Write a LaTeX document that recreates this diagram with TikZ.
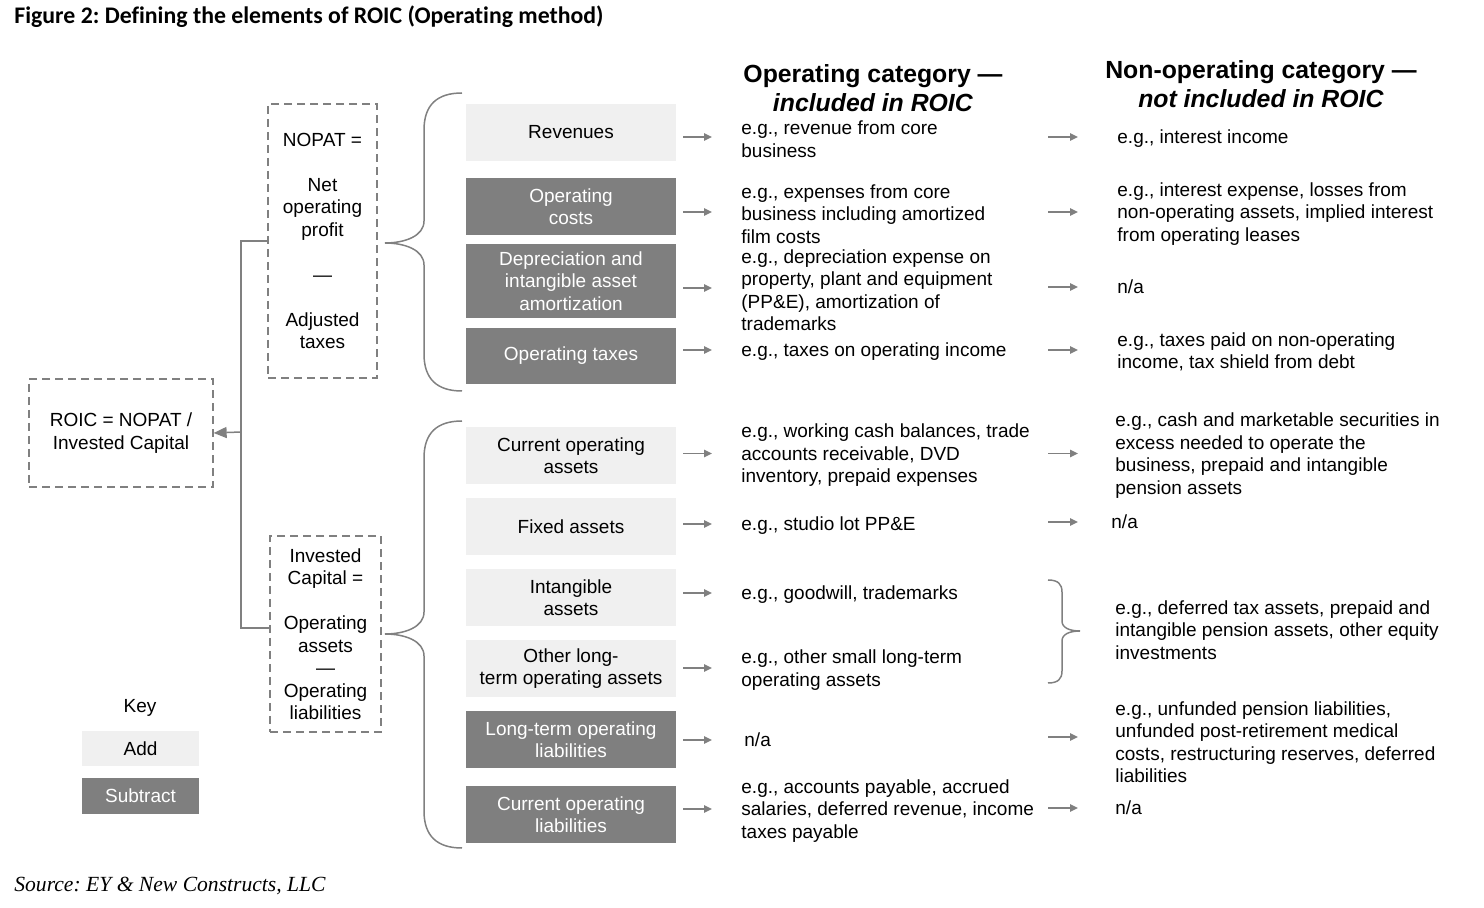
\documentclass[tikz,border=0pt]{standalone}
\usepackage{fontspec}
\setmainfont{Liberation Sans}
\newfontfamily\titlefont[Ligatures=NoCommon]{Carlito}
\newfontfamily\srcfont{Liberation Serif}
\usetikzlibrary{arrows.meta}
\definecolor{lightbox}{HTML}{F0F0F0}
\definecolor{darkbox}{HTML}{7F7F7F}
\definecolor{linegray}{HTML}{808080}
\newcommand\bodysize{\fontsize{9.5}{11.25}\selectfont}
\frenchspacing
\begin{document}
\begin{tikzpicture}[x=0.5pt,y=-0.5pt,
 addbox/.style={fill=lightbox, minimum width=105pt, inner sep=0, align=center, font=\bodysize, text=black},
 subbox/.style={fill=darkbox, minimum width=105pt, inner sep=0, align=center, font=\bodysize, text=white},
 dbox/.style={draw=linegray, dash pattern=on 4pt off 2.5pt, line width=0.65pt, inner sep=0, align=center, font=\bodysize},
 txt/.style={anchor=west, align=left, inner sep=0, font=\bodysize, yshift=-1pt},
 hdr/.style={align=center, inner sep=0, font=\fontsize{12.4}{14.5}\selectfont\bfseries},
 arr/.style={draw=linegray, line width=0.9pt, -{Triangle[length=4pt,width=3.6pt]}},
 conn/.style={draw=linegray, line width=0.75pt},
 brc/.style={draw=linegray, line width=0.75pt}]
\useasboundingbox (0,0) rectangle (1484,908);

% title and source
\node[anchor=west, inner sep=0, font=\titlefont\bfseries\fontsize{11.9}{14}\selectfont] (title) at (14,17) {Figure 2: Defining the elements of ROIC (Operating method)};
\node[anchor=west, inner sep=0, font=\srcfont\itshape\fontsize{10.8}{13}\selectfont] (src) at (14,886) {Source: EY \& New Constructs, LLC};

% headers
\node[hdr] (h1) at (873,88) {Operating category —\\\textit{included in ROIC}};
\node[hdr] (h2) at (1261,84) {Non-operating category —\\\textit{not included in ROIC}};

% dashed boxes
\node[dbox, minimum width=92pt, minimum height=54pt] (roic) at (121,433) {ROIC = NOPAT /\\Invested Capital};
\node[dbox, minimum width=54.5pt, minimum height=137pt] (nopat) at (322.5,241) {NOPAT =\\\mbox{}\\Net\\operating\\profit\\\mbox{}\\—\\\mbox{}\\Adjusted\\taxes};
\node[dbox, minimum width=55.5pt, minimum height=98pt] (inv) at (325.5,634) {Invested\\Capital =\\\mbox{}\\Operating\\assets\\—\\Operating\\liabilities};

% connector
\coordinate (jx) at (241,432);
\draw[conn] (nopat.west) -| (jx) |- ([yshift=3pt]inv.west);
\draw[conn, -{Triangle[length=6.5pt,width=5.5pt]}] (jx) -- (roic.east);

% braces
\draw[brc] (462,93) .. controls (437,93) and (424,105) .. (424,130) -- (424,221)
  .. controls (424,236) and (405,243) .. (385,243)
  .. controls (405,243) and (424,250) .. (424,265) -- (424,354)
  .. controls (424,379) and (437,391) .. (462,391);
\draw[brc] (462,421) .. controls (437,421) and (424,433) .. (424,458) -- (424,612)
  .. controls (424,627) and (405,634) .. (385,634)
  .. controls (405,634) and (424,641) .. (424,656) -- (424,811)
  .. controls (424,836) and (437,848) .. (462,848);
\draw[brc] (1048,580) .. controls (1058,580) and (1062,584) .. (1062,592) -- (1062,621)
  .. controls (1062,628) and (1070,631) .. (1080,631)
  .. controls (1070,631) and (1062,634) .. (1062,641) -- (1062,671)
  .. controls (1062,679) and (1058,683) .. (1048,683);

% category boxes
\node[addbox, minimum height=28.5pt] (b1) at (571,132.5) {Revenues};
\node[subbox, minimum height=28.5pt] (b2) at (571,206.5) {Operating\\costs};
\node[subbox, minimum height=37pt] (b3) at (571,281) {Depreciation and\\intangible asset\\amortization};
\node[subbox, minimum height=28pt] (b4) at (571,356) {Operating taxes};
\node[addbox, minimum height=28.5pt] (b5) at (571,455.5) {Current operating\\assets};
\node[addbox, minimum height=28.5pt] (b6) at (571,526.5) {Fixed assets};
\node[addbox, minimum height=28.5pt] (b7) at (571,597.5) {Intangible\\assets};
\node[addbox, minimum height=28.5pt] (b8) at (571,668.5) {Other long-\\term operating assets};
\node[subbox, minimum height=28.5pt] (b9) at (571,739.5) {Long-term operating\\liabilities};
\node[subbox, minimum height=28.5pt] (b10) at (571,814.5) {Current operating\\liabilities};

% operating column texts
\node[txt] (t1) at (741,137) {e.g., revenue from core\\business};
\node[txt] (t2) at (741,212) {e.g., expenses from core\\business including amortized\\film costs};
\node[txt] (t3) at (741,288) {e.g., depreciation expense on\\property, plant and equipment\\(PP\&E), amortization of\\trademarks};
\node[txt] (t4) at (741,350) {e.g., taxes on operating income};
\node[txt] (t5) at (741,453.5) {e.g., working cash balances, trade\\accounts receivable, DVD\\inventory, prepaid expenses};
\node[txt] (t6) at (741,524) {e.g., studio lot PP\&E};
\node[txt] (t7) at (741,593) {e.g., goodwill, trademarks};
\node[txt] (t8) at (741,668) {e.g., other small long-term\\operating assets};
\node[txt] (t9) at (744,740) {n/a\strut};
\node[txt] (t10) at (741,809) {e.g., accounts payable, accrued\\salaries, deferred revenue, income\\taxes payable};

% non-operating column texts
\node[txt] (n1) at (1117,137) {e.g., interest income};
\node[txt] (n2) at (1117,212) {e.g., interest expense, losses from\\non-operating assets, implied interest\\from operating leases};
\node[txt] (n3) at (1117,287) {n/a\strut};
\node[txt] (n4) at (1117,350) {e.g., taxes paid on non-operating\\income, tax shield from debt};
\node[txt] (n5) at (1115,453.5) {e.g., cash and marketable securities in\\excess needed to operate the\\business, prepaid and intangible\\pension assets};
\node[txt] (n6) at (1111,522) {n/a\strut};
\node[txt] (n78) at (1115,628) {e.g., deferred tax assets, prepaid and\\intangible pension assets, other equity\\investments};
\node[txt] (n9) at (1115,740) {e.g., unfunded pension liabilities,\\unfunded post-retirement medical\\costs, restructuring reserves, deferred\\liabilities};
\node[txt] (n10) at (1115,808) {n/a\strut};

% arrows box -> operating text
\foreach \i in {1,...,8,10}{
  \draw[arr, shorten <=3.5pt, shorten >=14.5pt] ([yshift=1pt]b\i.east |- t\i.west) -- ([yshift=1pt]t\i.west);
}
\draw[arr, shorten <=3.5pt, shorten >=16pt] ([yshift=1pt]b9.east |- t9.west) -- ([yshift=1pt]t9.west);

% arrows operating -> non-operating
\coordinate (c2s) at (1048,0);
\coordinate (c2e) at (1078,0);
\foreach \n in {n1,n2,n3,n4,n5,n6,n10}{
  \draw[arr] ([yshift=1pt]\n.west -| c2s) -- ([yshift=1pt]\n.west -| c2e);
}
\draw[arr] ([yshift=2.5pt]n9.west -| c2s) -- ([yshift=2.5pt]n9.west -| c2e);

% key
\node[font=\bodysize, inner sep=0] (key) at (140,708) {Key};
\node[addbox, minimum width=58.5pt, minimum height=17.5pt] (kadd) at (140.5,748.5) {Add};
\node[subbox, minimum width=58.5pt, minimum height=18pt] (ksub) at (140.5,796) {Subtract};
\end{tikzpicture}
\end{document}
